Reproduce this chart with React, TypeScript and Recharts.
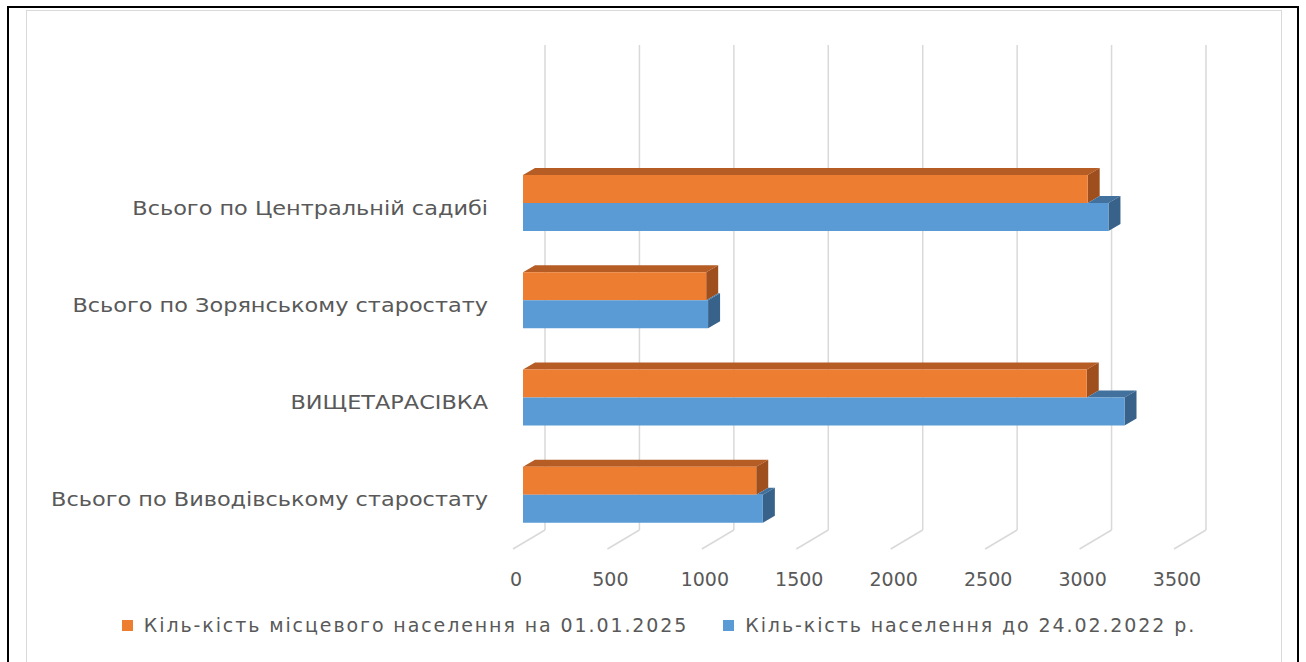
import { BarChart, Bar, XAxis, YAxis, CartesianGrid, Legend } from 'recharts';

const categories = [
  'Всього по Центральній садибі',
  'Всього по Зорянському старостату',
  'ВИЩЕТАРАСІВКА',
  'Всього по Виводівському старостату',
];
const local2025 = [2990, 970, 2985, 1235];
const prewar2022 = [3100, 980, 3185, 1270];
const xTicks = [0, 500, 1000, 1500, 2000, 2500, 3000, 3500];
const seriesNames = [
  'Кіль-кість місцевого населення на 01.01.2025',
  'Кіль-кість населення до 24.02.2022 р.',
];

const data = categories.map((name, i) => ({ name, local: local2025[i], prewar: prewar2022[i] }));

const FONT = '"DejaVu Sans", sans-serif';
const TEXT = '#595959';
const GRID = '#d9d9d9';
const ORANGE = { front: '#ED7D31', top: '#B55D24', side: '#9E4F1D' };
const BLUE = { front: '#5B9BD5', top: '#41719C', side: '#38628A' };

// 3d look: depth offset of bar faces and the back wall
const DX = 12;
const DY = 7;
const WALL_SHIFT = 22;
const WALL_TOP = 45;
const WALL_BOTTOM = 530;
const FLOOR_FRONT = 549;

const pts = (arr: number[][]) => arr.map((p) => p.join(',')).join(' ');

const LocalBar = (p: any) => {
  const { x, y, width, height } = p;
  const r = x + width;
  return (
    <g>
      <polygon points={pts([[x, y], [x + DX, y - DY], [r + DX, y - DY], [r, y]])} fill={ORANGE.top} />
      <polygon points={pts([[r, y], [r + DX, y - DY], [r + DX, y + height - DY], [r, y + height]])} fill={ORANGE.side} />
      <rect x={x} y={y} width={width} height={height} fill={ORANGE.front} />
    </g>
  );
};

const PrewarBar = (p: any) => {
  const { x, y, width, height, payload } = p;
  const r = x + width;
  // the orange bar above hides the top face up to its own end
  const ox = x + width * Math.min(1, payload.local / payload.prewar);
  return (
    <g>
      <polygon points={pts([[ox, y], [ox + DX, y - DY], [r + DX, y - DY], [r, y]])} fill={BLUE.top} />
      <polygon points={pts([[r, y], [r + DX, y - DY], [r + DX, y + height - DY], [r, y + height]])} fill={BLUE.side} />
      <rect x={x} y={y} width={width} height={height} fill={BLUE.front} />
    </g>
  );
};

const wallLine = (p: any) => {
  const x = p.x1 + WALL_SHIFT;
  return (
    <g key={`wall-${p.index}`}>
      <line x1={x} y1={WALL_TOP} x2={x} y2={WALL_BOTTOM} stroke={GRID} strokeWidth={1.5} />
      <line x1={x} y1={WALL_BOTTOM} x2={p.x1 - 10} y2={FLOOR_FRONT} stroke={GRID} strokeWidth={1.5} />
    </g>
  );
};

const XTick = (p: any) => (
  <text x={p.x - 7} y={p.y + 41} textAnchor="middle" fill={TEXT} fontFamily={FONT} fontSize={19}>
    {p.payload.value}
  </text>
);

const YTick = (p: any) => (
  <text
    transform={`translate(488,${p.y + 12}) scale(1.18,1)`}
    textAnchor="end"
    fill={TEXT}
    fontFamily={FONT}
    fontSize={19}
  >
    {p.payload.value}
  </text>
);

const LegendBox = () => (
  <div style={{ display: 'flex', justifyContent: 'center', gap: 35, paddingLeft: 12, fontFamily: FONT, fontSize: 19, color: TEXT, whiteSpace: 'nowrap' }}>
    {seriesNames.map((n, i) => (
      <span key={n} style={{ display: 'flex', alignItems: 'center' }}>
        <span style={{ width: 11, height: 11, background: i === 0 ? ORANGE.front : BLUE.front, marginRight: 11 }} />
        <span style={{ letterSpacing: 1.9 }}>{n}</span>
      </span>
    ))}
  </div>
);

export default function App() {
  return (
    <div style={{ position: 'absolute', left: 0, top: 0, width: 1306, height: 662, overflow: 'hidden', background: '#fff' }}>
      <div style={{ position: 'absolute', left: 7, top: 6, width: 1292, height: 700, border: '2px solid #000', boxSizing: 'border-box' }} />
      <div style={{ position: 'absolute', left: 26, top: 10, width: 1256, height: 700, border: '1.5px solid #d9d9d9', boxSizing: 'border-box' }} />
      <div style={{ position: 'absolute', left: 0, top: 0 }}>
        <BarChart
          width={1306}
          height={662}
          data={data}
          layout="vertical"
          margin={{ top: 154, right: 122, left: 0, bottom: 47 }}
          barSize={28}
          barGap={0}
        >
          <CartesianGrid horizontal={false} vertical={wallLine} />
          <XAxis
            type="number"
            domain={[0, 3500]}
            ticks={xTicks}
            height={50}
            axisLine={false}
            tickLine={false}
            tickSize={0}
            tick={<XTick />}
          />
          <YAxis type="category" dataKey="name" width={523} axisLine={false} tickLine={false} tick={<YTick />} />
          <Legend
            content={<LegendBox />}
            verticalAlign="bottom"
            wrapperStyle={{ position: 'absolute', left: 0, top: 614, width: 1306 }}
          />
          <Bar dataKey="local" name={seriesNames[0]} fill={ORANGE.front} shape={<LocalBar />} isAnimationActive={false} />
          <Bar dataKey="prewar" name={seriesNames[1]} fill={BLUE.front} shape={<PrewarBar />} isAnimationActive={false} />
        </BarChart>
      </div>
    </div>
  );
}
